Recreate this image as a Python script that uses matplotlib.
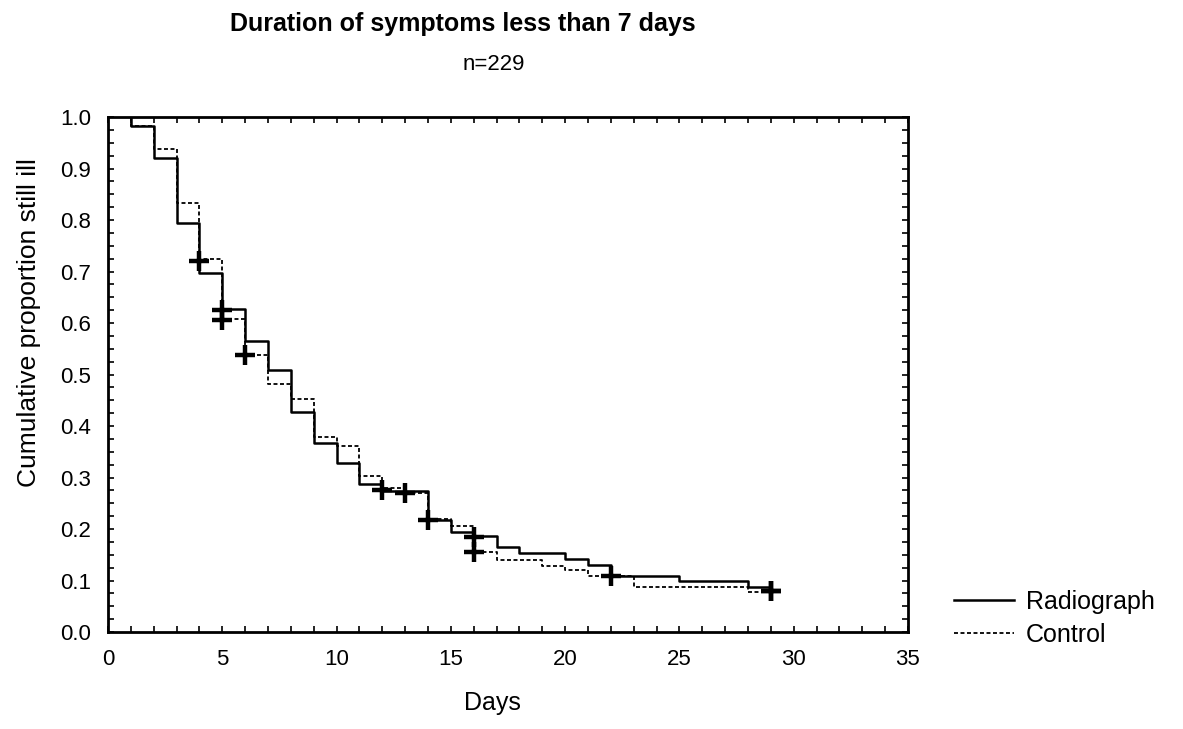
import numpy as np
import matplotlib
matplotlib.use("Agg")
import matplotlib.pyplot as plt
from matplotlib.ticker import MultipleLocator

plt.rcParams['font.family'] = ['Liberation Sans', 'DejaVu Sans']

# Kaplan-Meier style steps (day of event, proportion after it)
rad_days = [1, 2, 3, 4, 5, 6, 7, 8, 9, 10, 11, 12, 14, 15, 16, 17, 18, 20, 21, 22, 25, 28]
rad_surv = [0.982, 0.921, 0.795, 0.698, 0.628, 0.566, 0.508, 0.428, 0.368, 0.328, 0.288,
            0.274, 0.218, 0.195, 0.186, 0.165, 0.153, 0.142, 0.130, 0.109, 0.099, 0.088]
rad_end = 29
rad_cens_x = [4, 5, 12, 14, 16, 22, 29]
rad_cens_y = [0.720, 0.625, 0.275, 0.218, 0.185, 0.108, 0.080]

ctl_days = [1, 2, 3, 4, 5, 6, 7, 8, 9, 10, 11, 12, 13, 14, 15, 16, 17, 19, 20, 21, 23, 28]
ctl_surv = [0.982, 0.938, 0.834, 0.724, 0.607, 0.537, 0.482, 0.453, 0.378, 0.362, 0.303,
            0.280, 0.270, 0.220, 0.205, 0.156, 0.140, 0.128, 0.121, 0.109, 0.088, 0.078]
ctl_end = 29
ctl_cens_x = [5, 6, 13, 16, 29]
ctl_cens_y = [0.605, 0.537, 0.270, 0.155, 0.080]

labels = ["Radiograph", "Control"]


def step_xy(days, surv, end):
    x = [days[0]] + list(days) + [end]
    y = [1.0] + list(surv) + [surv[-1]]
    return x, y


fig = plt.figure(figsize=(11.83, 7.29), dpi=100)
ax = fig.add_axes([0.0913, 0.133, 0.6762, 0.7065])

x, y = step_xy(rad_days, rad_surv, rad_end)
ax.step(x, y, where='post', color='black', lw=1.8, label=labels[0])
x, y = step_xy(ctl_days, ctl_surv, ctl_end)
ax.step(x, y, where='post', color='black', lw=1.3, linestyle=(0, (2.2, 1.4)), label=labels[1])

ax.plot(rad_cens_x, rad_cens_y, ls='none', marker='+', ms=14, mew=3.2, color='black')
ax.plot(ctl_cens_x, ctl_cens_y, ls='none', marker='+', ms=14, mew=3.2, color='black')

ax.set_xlim(0, 35)
ax.set_ylim(0, 1.0)
ax.xaxis.set_major_locator(MultipleLocator(5))
ax.xaxis.set_minor_locator(MultipleLocator(1))
ax.yaxis.set_major_locator(MultipleLocator(0.1))
ax.yaxis.set_minor_locator(MultipleLocator(0.025))
ax.yaxis.set_major_formatter(plt.FuncFormatter(lambda v, p: f"{v:.1f}"))
ax.tick_params(which='both', direction='in', top=True, right=True, length=4, width=1.2,
               labelsize=16, color='black')
ax.tick_params(axis='x', pad=12)
ax.tick_params(axis='y', pad=12)
for s in ax.spines.values():
    s.set_linewidth(2)

ax.set_xlabel("Days", fontsize=18)
ax.xaxis.set_label_coords(0.48, -0.115)
ax.set_ylabel("Cumulative proportion still ill", fontsize=19)
ax.yaxis.set_label_coords(-0.084, 0.6)

fig.text(463 / 1183, 1 - 24 / 729, "Duration of symptoms less than 7 days",
         ha='center', va='center', fontsize=18, fontweight='bold')
fig.text(494 / 1183, 1 - 64 / 729, "n=229", ha='center', va='center', fontsize=16)

fig.legend(loc='center left', bbox_to_anchor=(0.787, 0.152), frameon=False,
           fontsize=18, handlelength=2.4, handletextpad=0.5, labelspacing=0.35)

fig.savefig("out.png", dpi=100)
